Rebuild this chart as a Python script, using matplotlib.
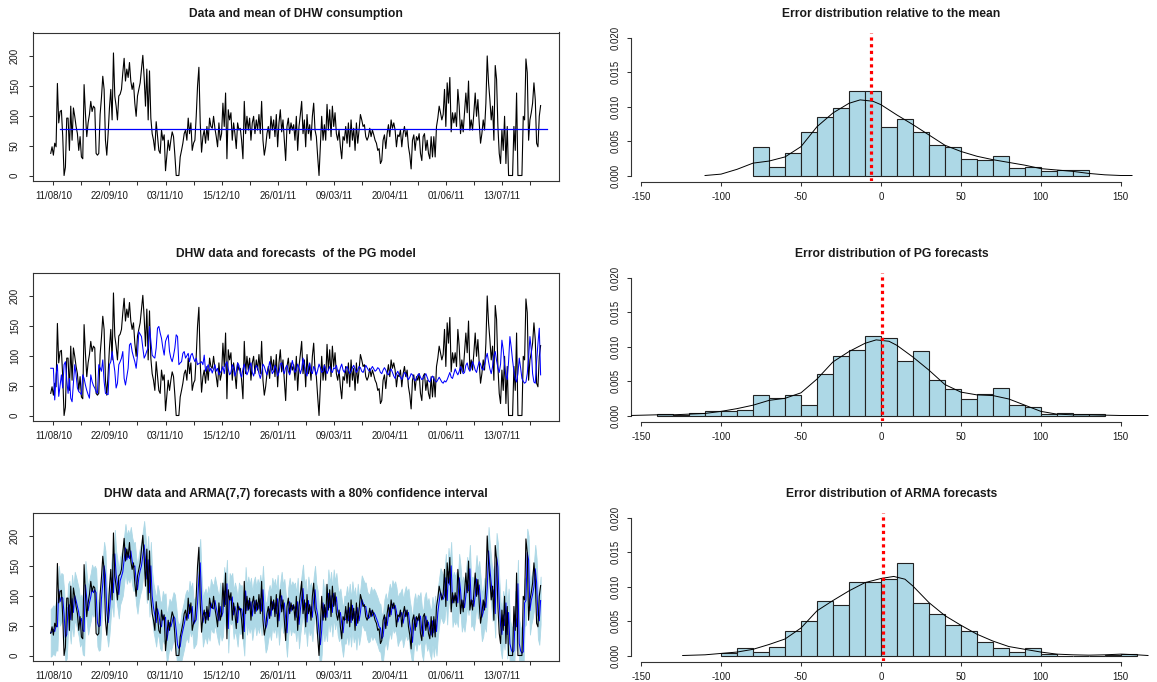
import numpy as np
import pandas as pd
import matplotlib
matplotlib.use('Agg')
import matplotlib.pyplot as plt
import matplotlib.dates as mdates
from matplotlib.ticker import FixedLocator, FormatStrFormatter

plt.rcParams['font.family'] = ['Liberation Sans', 'DejaVu Sans']
plt.rcParams['axes.unicode_minus'] = False

# ---------------- data ----------------
start_date = '2010-08-09'

dhw = [
    # Aug - mid Dec 2010
    37,48,34,54,48,154,88,107,109,65, 0,14,96,96,42,116,59,113,99,82,
    70,42,65,31,28,152,104,65,88,102, 124,107,116,113,37,34,37,102,130,166,
    144,59,34,70,113,144,93,205,133,116, 93,133,136,144,172,196,158,178,164,189,
    158,144,155,121,99,133,144,155,178,201, 164,116,178,93,175,96,70,59,42,90,
    65,42,37,76,59,68,8,34,59,42, 59,73,65,34,0,0,0,31,42,54,
    70,76,59,96,70,88,42,54,59,99, 150,181,88,39,65,76,54,82,59,96,
    82,79,99,79,65,48,
    # mid Dec 2010 - late Apr 2011
    88,59,70,121,82,138,28,110,93,105, 59,88,70,45,88,76,79,59,28,124,
    70,99,76,96,59,88,99,70,93,76, 102,70,124,59,34,48,70,82,62,99,
    76,93,65,102,48,88,110,73,93,59, 25,82,96,70,88,76,85,59,99,42,
    82,102,124,70,93,48,102,70,85,59, 99,121,76,65,31,0,48,99,59,85,
    59,119,76,110,65,116,82,105,70,59, 76,48,28,65,59,82,54,88,48,93,
    59,79,42,88,54,76,102,93,82,85, 65,59,65,79,65,76,68,59,54,42,
    45,20,25,59,68,45,70,85,65,93, 79,88,76,48,68,
    # late Apr - Aug 2011
    65,76,48,70,82,65,76,48,34,11, 59,68,42,65,59,70,37,25,65,70,
    42,59,37,28,65,31,65,31,82,96, 116,105,93,102,144,82,155,121,164,73,
    105,88,105,82,144,116,70,93,73,105, 138,105,158,76,93,76,105,138,99,127,
    88,54,70,93,76,121,200,155,127,93, 116,59,184,161,82,37,20,76,42,99,
    20,82,0,0,0,0,82,42,138,0, 0,0,0,99,93,195,172,59,93,105,
    121,155,127,54,48,99,117,
]

pg_forecast = [
    79,79,79,
    26,68,85,32,50, 68,46,85,90,60, 37,62,29,23,55, 85,68,46,40,38, 35,68,62,51,42,
    35,29,68,57,50, 46,40,37,85,80, 74,93,57,37,36, 35,85,90,107,90, 74,46,54,85,90,
    96,107,62,51,65, 79,118,121,107,98, 90,79,101,140,136, 132,113,96,101,108,
    113,149,124,101,98, 96,113,146,149,138, 129,113,101,124,130, 135,107,96,90,100,
    113,135,132,85,88, 90,104,107,96,100, 104,90,101,104,96, 90,96,85,87,88,
    90,85,101,74,80, 85,74,79,71,78, 85,74,79,68,72,
    75,82,70,86,90,78,68,72,85,80, 66,74,88,84,70,64,78,86,76,68,
    74,82,88,72,66,76,84,80,70,62, 72,86,82,74,68,78,90,80,70,74,
    84,78,66,72,86,88,76,70,80,84, 74,68,78,92,82,72,76,86,80,70, 78,96,
    84,72,66,80,88,74,70,82,78,68, 76,86,80,72,74,84,78,70,76,82, 74,72,80,
    78,84,74,70,80,86,76,72,78,82, 76,70,74,80,84,78,72,76,82,80,
    74,72,78,84,80,76,74,78,82,78, 74,76,80,78,72,70,76,80,76,70, 68,74,78,
    72,66,62,70,74,68,64,60,66,72, 70,64,60,64,70,68,62,58,62,68,
    70,64,60,62,66,70,64,58,56,62, 66,62,58,56,60,64,60,56,54,58, 56,
    60,66,72,64,62,70,78,72,68,74, 82,76,70,72,84,88,78,74,80,90, 84,76,72,82,90,86,78,76,
    84,96,104,90,78,70,82,100,107,92,80,72,86, 126, 110,84,66,60,90, 132,
    114,92,74,62,56,70,96,80,62,57, 54,56,70,96, 132, 110,70,56,54,90,120, 146, 68,
]

arma_forecast = [
    38,40,44,40,50,48,110,90,98,96, 70,30,35,80,85,60,95,72,100,92,
    82,72,55,62,42,40,118,95,75,88, 98,112,105,110,105,55,48,50,95,120,
    150,135,75,55,75,105,130,105,170,135, 120,102,125,132,140,160,180,160,170,162,
    175,158,148,150,125,110,130,142,150,168, 185,160,128,160,105,150,100,80,68,55,
    78,68,52,48,68,60,64,25,40,55, 48,56,66,62,42,18,12,15,32,42,
    52,64,70,62,85,72,82,52,56,60, 88,130,155,95,55,66,72,60,76,65,
    88,80,78,92,80,68,
    58,82,65,72,108,85,120,45,98,92, 98,68,82,72,55,82,76,78,64,40,
    108,75,92,78,90,66,84,92,74,88, 78,95,74,110,68,45,52,68,78,66,
    90,78,88,70,95,58,82,100,78,88, 64,38,74,90,74,84,78,82,64,90,
    52,76,95,112,76,88,56,92,74,82, 64,92,110,80,68,40,18,42,88,64,
    80,64,104,80,100,72,104,84,98,74, 64,72,54,38,60,60,76,58,80,55,
    84,62,74,50,80,58,72,94,88,82, 82,68,62,64,75,66,72,68,62,56,
    48,46,28,32,54,64,50,66,80,68, 86,78,84,74,56,
    64,66,72,54,66,76,66,72,52,38, 22,52,64,48,62,58,66,42,32,58,
    66,48,56,42,34,58,38,60,40,72, 90,106,100,94,100,130,92,140,118,150,
    88,100,92,100,88,130,110,80,92,80, 100,125,108,145,88,92,82,100,128,102,
    118,92,64,72,90,80,112,175,145,122, 98,110,70,165,148,90,50,35,68,50,
    88,35,72,20,10,5,8,68,48,120, 20,8,4,6,88,92,172,160,75,92,
    102,115,145,122,68,58,92,
]
ci_half_width = 40          # 80 % interval half width

mean_value = 78
mean_start = '2010-08-16'
mean_end = '2011-08-16'

tick_start = '2010-08-11'
tick_count = 18
tick_step = '21D'

# histograms (density), bin width 10
bin_width = 10
h1_start = -80
h1 = [0.0041,0.0013,0.0033,0.0063,0.0085,0.0098,0.0123,0.0123,0.0071,0.0082,0.0063,
      0.0044,0.0041,0.0024,0.0022,0.0028,0.0011,0.0013,0.0006,0.0008,0.0008]
h2_start = -140
h2 = [0.0002,0.0001,0.0003,0.0006,0.0006,0.0008,0.0030,0.0026,0.0030,0.0016,0.0060,
      0.0086,0.0096,0.0116,0.0113,0.0080,0.0094,0.0052,0.0038,0.0024,0.0032,0.0040,
      0.0016,0.0013,0.0002,0.0003,0.0002,0.0002]
h3_start = -100
h3 = [0.0003,0.0011,0.0005,0.0013,0.0035,0.0050,0.0079,0.0073,0.0107,0.0107,0.0112,
      0.0134,0.0077,0.0060,0.0044,0.0035,0.0019,0.0011,0.0005,0.0011,0.0002,0.0,0.0,
      0.0,0.0001,0.0002]

d1_x = [-110,-100,-90,-80,-70,-60,-50,-40,-30,-20,-13,-5,0,10,20,30,40,50,60,70,80,90,
        100,110,120,130,140,150,157]
d1_y = [0,0.0002,0.0009,0.0018,0.0021,0.0027,0.0042,0.0071,0.0091,0.0105,0.0110,0.0108,
        0.0103,0.0088,0.0074,0.0059,0.0044,0.0035,0.0028,0.0023,0.0019,0.0015,0.0010,
        0.0008,0.0006,0.0003,0.0001,0,0]
d2_x = [-157,-140,-130,-120,-110,-100,-90,-80,-70,-60,-50,-40,-30,-20,-10,-3,5,10,20,30,
        40,50,60,70,80,90,100,110,120,130,140,150,167]
d2_y = [0,0.0001,0.0001,0.0002,0.0003,0.0006,0.0010,0.0015,0.0022,0.0025,0.0033,0.0053,
        0.0078,0.0093,0.0105,0.0110,0.0108,0.0102,0.0085,0.0066,0.0045,0.0034,0.0030,
        0.0029,0.0024,0.0015,0.0006,0.0002,0.0001,0.0001,0.00005,0,0]
d3_x = [-124,-110,-100,-90,-80,-70,-60,-50,-40,-30,-20,-10,0,8,15,20,30,40,50,60,70,80,
        90,100,110,120,130,140,150,160,167]
d3_y = [0,0.0001,0.0003,0.0005,0.0009,0.0016,0.0024,0.0040,0.0065,0.0080,0.0094,0.0106,
        0.0112,0.0115,0.0111,0.0101,0.0077,0.0058,0.0044,0.0031,0.0021,0.0013,0.0009,
        0.0005,0.0002,0.0001,0.00005,0.0001,0.0002,0.0001,0]

red_lines = [-6, 0.5, 1]

left_titles = ['Data and mean of DHW consumption',
               'DHW data and forecasts  of the PG model',
               'DHW data and ARMA(7,7) forecasts with a 80% confidence interval']
right_titles = ['Error distribution relative to the mean',
                'Error distribution of PG forecasts',
                'Error distribution of ARMA forecasts']

assert len(dhw) == len(pg_forecast) == len(arma_forecast), (len(dhw), len(pg_forecast), len(arma_forecast))

# ---------------- figure ----------------
W, H = 1157, 682
fig = plt.figure(figsize=(W / 100, H / 100), dpi=100)

def rect(l, t, r, b):
    return [l / W, 1 - b / H, (r - l) / W, (b - t) / H]

row_tops = [32.5, 272.5, 512.5]
row_bots = [181.0, 421.0, 661.0]
title_y = [14, 254, 494]
LX0, LX1 = 32.7, 559.3
RX0, RX1 = 630.7, 1152.0

AX_COL = '#333333'
TXT_COL = '#1a1a1a'
FS_TICK = 7.0
FS_TITLE = 8.7

dates = pd.date_range(start_date, periods=len(dhw), freq='D')
dhw_a = np.array(dhw, float)
arma_a = np.array(arma_forecast, float)
tick_dates = pd.date_range(tick_start, periods=tick_count, freq=tick_step)
tick_labels = [d.strftime('%d/%m/%y') if i % 2 == 0 else '' for i, d in enumerate(tick_dates)]
t0 = pd.Timestamp(tick_start)
xlim_ts = (mdates.date2num(t0 - pd.Timedelta(days=15.5)),
           mdates.date2num(t0 + pd.Timedelta(days=379)))

def style_ts(ax):
    for s in ax.spines.values():
        s.set_color(AX_COL)
        s.set_linewidth(0.8)
    ax.set_xlim(*xlim_ts)
    ax.set_ylim(-9.2, 239.2)
    ax.set_xticks(mdates.date2num(tick_dates.to_pydatetime()))
    ax.set_xticklabels(tick_labels)
    ax.set_yticks([0, 50, 100, 150, 200])
    ax.tick_params(axis='both', direction='out', length=3.2, width=0.75,
                   color=AX_COL, labelsize=FS_TICK, labelcolor=TXT_COL)
    ax.tick_params(axis='x', pad=4.0)
    ax.tick_params(axis='y', pad=6.0, labelrotation=90)
    for lab in ax.get_yticklabels():
        lab.set_va('center')

for i in range(3):
    ax = fig.add_axes(rect(LX0, row_tops[i], LX1, row_bots[i]))
    if i == 2:
        ax.fill_between(dates, arma_a - ci_half_width, arma_a + ci_half_width,
                        color='#ADD8E6', lw=0.6, edgecolor='#ADD8E6', zorder=1)
        ax.plot(dates, arma_a, color='#0000FF', lw=0.75, zorder=2)
        ax.plot(dates, dhw_a, color='black', lw=0.8, zorder=3)
    else:
        ax.plot(dates, dhw_a, color='black', lw=0.8, zorder=2)
    if i == 0:
        ax.plot([pd.Timestamp(mean_start), pd.Timestamp(mean_end)], [mean_value, mean_value],
                color='#0000FF', lw=0.9, zorder=3)
    elif i == 1:
        ax.plot(dates, pg_forecast, color='#0000FF', lw=0.75, zorder=3)
    style_ts(ax)
    fig.text((LX0 + LX1) / 2 / W, 1 - title_y[i] / H, left_titles[i], ha='center', va='center',
             fontsize=FS_TITLE, fontweight='bold', color=TXT_COL)

hists = [(h1_start, h1, d1_x, d1_y), (h2_start, h2, d2_x, d2_y), (h3_start, h3, d3_x, d3_y)]
for i, (hs, hv, dx, dy) in enumerate(hists):
    ax = fig.add_axes(rect(RX0, row_tops[i], RX1, row_bots[i]))
    lefts = hs + bin_width * np.arange(len(hv))
    ax.bar(lefts, hv, width=bin_width, align='edge', color='#ADD8E6',
           edgecolor='#222222', linewidth=0.8, zorder=2)
    ax.plot(dx, dy, color='black', lw=0.7, zorder=3)
    ax.axvline(red_lines[i], color='red', lw=2.3, ls=(0, (1, 1.1)), zorder=4)
    ax.set_xlim(-156.5, 169.5)
    ax.set_ylim(-0.0008, 0.0208)
    ax.spines['top'].set_visible(False)
    ax.spines['right'].set_visible(False)
    for s in ('left', 'bottom'):
        ax.spines[s].set_color(AX_COL)
        ax.spines[s].set_linewidth(0.8)
    ax.spines['bottom'].set_position(('outward', 1))
    ax.spines['left'].set_bounds(0, 0.02)
    ax.spines['bottom'].set_bounds(-150, 150)
    ax.xaxis.set_major_locator(FixedLocator([-150, -100, -50, 0, 50, 100, 150]))
    ax.yaxis.set_major_locator(FixedLocator([0, 0.005, 0.010, 0.015, 0.020]))
    ax.yaxis.set_major_formatter(FormatStrFormatter('%.3f'))
    ax.tick_params(axis='both', direction='out', length=3.2, width=0.75,
                   color=AX_COL, labelsize=FS_TICK, labelcolor=TXT_COL)
    ax.tick_params(axis='x', pad=3.5)
    ax.tick_params(axis='y', pad=4.0, labelrotation=90)
    for lab in ax.get_yticklabels():
        lab.set_va('center')
    fig.text((RX0 + RX1) / 2 / W, 1 - title_y[i] / H, right_titles[i], ha='center', va='center',
             fontsize=FS_TITLE, fontweight='bold', color=TXT_COL)

fig.savefig('out.png', dpi=100)
